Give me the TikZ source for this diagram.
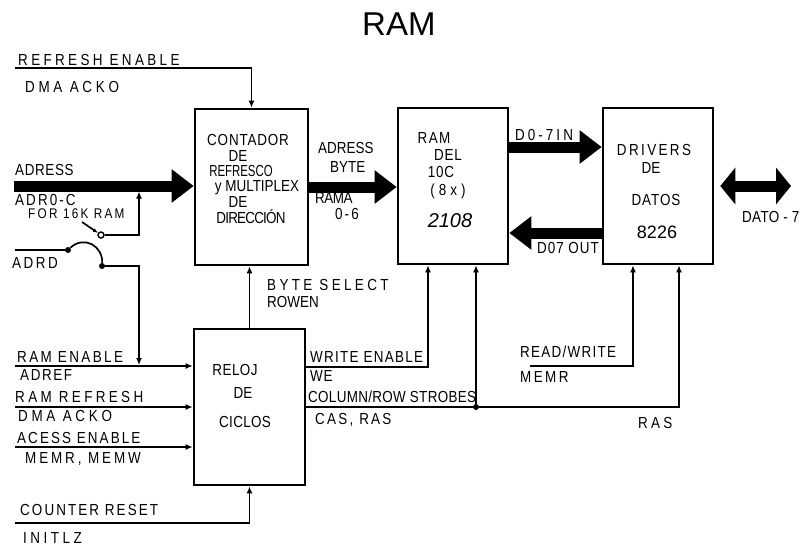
\documentclass[tikz,border=0pt]{standalone}
\usepackage{fontspec}
\setmainfont{Liberation Sans}
\newfontfamily\hw[FakeStretch=0.84]{Liberation Sans}
\newfontfamily\tf{Liberation Sans}
\usetikzlibrary{arrows.meta}
\begin{document}
\begin{tikzpicture}[x=1pt,y=-1pt,
  box/.style={draw, line width=2.6pt, inner sep=0pt},
  wire/.style={line width=1.7pt},
  tip/.style={-{Latex[length=7pt,width=6pt]}},
  bus/.style={line width=11pt, -{Triangle[length=22pt,width=32pt]}},
  dbus/.style={line width=11pt, {Triangle[length=15pt,width=36pt]}-{Triangle[length=15pt,width=36pt]}},
  lbl/.style={font=\hw\fontsize{16}{18}\selectfont\addfontfeature{LetterSpace=#1}, anchor=base west, inner sep=0pt},
  lbl/.default=0,
  inb/.style={font=\hw\fontsize{16}{18}\selectfont\addfontfeature{LetterSpace=#1}, anchor=base, inner sep=0pt},
  inb/.default=0,
  dot/.style={circle, fill, inner sep=0pt, minimum size=6pt},
  ocirc/.style={circle, draw, line width=1.4pt, fill=white, inner sep=0pt, minimum size=6pt}]
\useasboundingbox (0,0) rectangle (806,547);

% title
\node[font=\tf\fontsize{33}{36}\selectfont, anchor=base west, inner sep=0pt] (title) at (362,35) {RAM};

% boxes
\node[box, minimum width=113pt, minimum height=156pt] (cnt) at (251.5,187) {};
\node[box, minimum width=110pt, minimum height=156pt] (ram) at (453,186) {};
\node[box, minimum width=110pt, minimum height=156pt] (drv) at (658,186) {};
\node[box, minimum width=111pt, minimum height=156pt] (rel) at (249.5,407) {};

% box texts
\node[inb=5] (c1) at (248,145) {CONTADOR};
\node[inb] (c2) at (238,161) {DE};
\node[inb] (c3) at (241,176) {\scalebox{0.85}[1]{REFRESCO}};
\node[inb] (c4) at (257,191) {y MULTIPLEX};
\node[inb] (c5) at (238,207) {DE};
\node[inb=-5] (c6) at (251,223) {DIRECCIÓN};

\node[inb=9] (r1) at (434,143) {RAM};
\node[inb=5] (r2) at (448,160) {DEL};
\node[inb=5] (r3) at (441,177) {10C};
\node[inb=25] (r4) at (448,195) {(8x)};
\node[inb, font=\tf\itshape\fontsize{20}{22}\selectfont] (r5) at (450,227) {2108};

\node[inb=15] (d1) at (654,155) {DRIVERS};
\node[inb] (d2) at (651,173) {DE};
\node[inb=6] (d3) at (656,205) {DATOS};
\node[inb, font=\tf\fontsize{18}{20}\selectfont] (d4) at (657,238) {8226};

\node[inb=3] (k1) at (235,375) {RELOJ};
\node[inb] (k2) at (243,398) {DE};
\node[inb=2] (k3) at (245,427) {CICLOS};

% refresh enable
\coordinate (re) at (15,68);
\draw[wire,tip] (re) -| (cnt.north);
\node[lbl=21] (l1) at (18,65) {REFRESH ENABLE};
\node[lbl=23] (l2) at (25,92) {DMA ACKO};

% address bus
\coordinate (adr) at (14,186);
\draw[bus] (adr) -- (adr -| cnt.west);
\node[lbl=4] (l3) at (15,175) {ADRESS};
\node[lbl=13] (l4) at (15,205) {ADR0-C};
\node[lbl, font=\hw\fontsize{14}{16}\selectfont\addfontfeature{LetterSpace=16}] (l5) at (28,218) {FOR 16K RAM};

% 16K tap
\coordinate (tap) at (139,191.5);
\node[ocirc] (c16) at (101,235) {};
\draw[wire,tip] (c16.east) -| (tap);
\coordinate (p1) at (82,222);
\draw[wire,-{Latex[length=5pt,width=4pt]}] (p1) -- (c16);

% ADRD switch
\coordinate (adrd) at (15,250);
\node[dot] (swa) at (68,250) {};
\node[dot] (swb) at (102,266) {};
\draw[wire] (adrd) -- (swa);
\draw[wire] (swa) .. controls (84,235) and (103,246) .. (swb);
\coordinate (j1) at (139,365);
\draw[wire,tip] (swb) -| (j1);
\node[lbl=16] (l6) at (12,268) {ADRD};

% bottom inputs
\coordinate (in1) at (15,366);
\coordinate (in2) at (15,407);
\coordinate (in3) at (15,447);
\coordinate (in4) at (15,523);
\draw[wire,tip] (in1) -- (in1 -| rel.west);
\draw[wire,tip] (in2) -- (in2 -| rel.west);
\draw[wire,tip] (in3) -- (in3 -| rel.west);
\draw[wire,tip] (in4) -| (rel.south);
\node[lbl=15] (l7) at (17,362) {RAM ENABLE};
\node[lbl=10] (l8) at (20,380) {ADREF};
\node[lbl=21] (l9) at (15,402) {RAM REFRESH};
\node[lbl=23] (l10) at (18,421) {DMA ACKO};
\node[lbl=13] (l11) at (17,443) {ACESS ENABLE};
\node[lbl=18] (l12) at (25,463) {MEMR, MEMW};
\node[lbl=13] (l13) at (20,515) {COUNTER RESET};
\node[lbl=22] (l14) at (23,543) {INITLZ};

% reloj -> contador
\draw[wire,tip] (rel.north) -- (rel.north |- cnt.south);
\node[lbl=21] (l15) at (267,290) {BYTE SELECT};
\node[lbl] (l16) at (267,307) {ROWEN};

% contador -> ram bus
\draw[bus] (cnt.east) -- (cnt.east -| ram.west);
\node[lbl] (l17) at (318,153) {ADRESS};
\node[lbl] (l18) at (330,172) {BYTE};
\node[lbl=-3] (l19) at (315,203) {RAMA};
\node[lbl=13] (l20) at (335,219) {0-6};

% data buses
\draw[bus] ([yshift=39pt]ram.east) -- ([yshift=39pt]drv.west);
\draw[bus] ([yshift=-47pt]drv.west) -- ([yshift=-47pt]ram.east);
\node[lbl=19] (l21) at (515,140) {D0-7IN};
\node[lbl=6] (l22) at (537,253) {D07 OUT};
\coordinate (dout) at (791,186);
\draw[dbus] ([xshift=6pt]drv.east) -- (dout);
\node[lbl=2] (l23) at (742,222) {DATO - 7};

% write enable
\draw[wire,tip] ([yshift=40pt]rel.east) -| ([xshift=-25pt]ram.south);
\node[lbl=8] (l24) at (310,362) {WRITE ENABLE};
\node[lbl=5] (l25) at (310,381) {WE};

% strobes
\node[dot] (jn) at (476,407) {};
\draw[wire] (rel.east) -- (jn);
\draw[wire,tip] (jn) -- (jn |- ram.south);
\draw[wire,tip] (jn) -| ([xshift=21pt]drv.south);
\node[lbl=2] (l26) at (308,402) {COLUMN/ROW STROBES};
\node[lbl=14] (l27) at (315,424) {CAS, RAS};
\node[lbl=20] (l28) at (638,428) {RAS};

% read/write
\coordinate (rw) at (530,366);
\draw[wire,tip] (rw) -| ([xshift=-25pt]drv.south);
\node[lbl=8] (l29) at (520,357) {READ/WRITE};
\node[lbl=15] (l30) at (520,382) {MEMR};
\end{tikzpicture}
\end{document}
